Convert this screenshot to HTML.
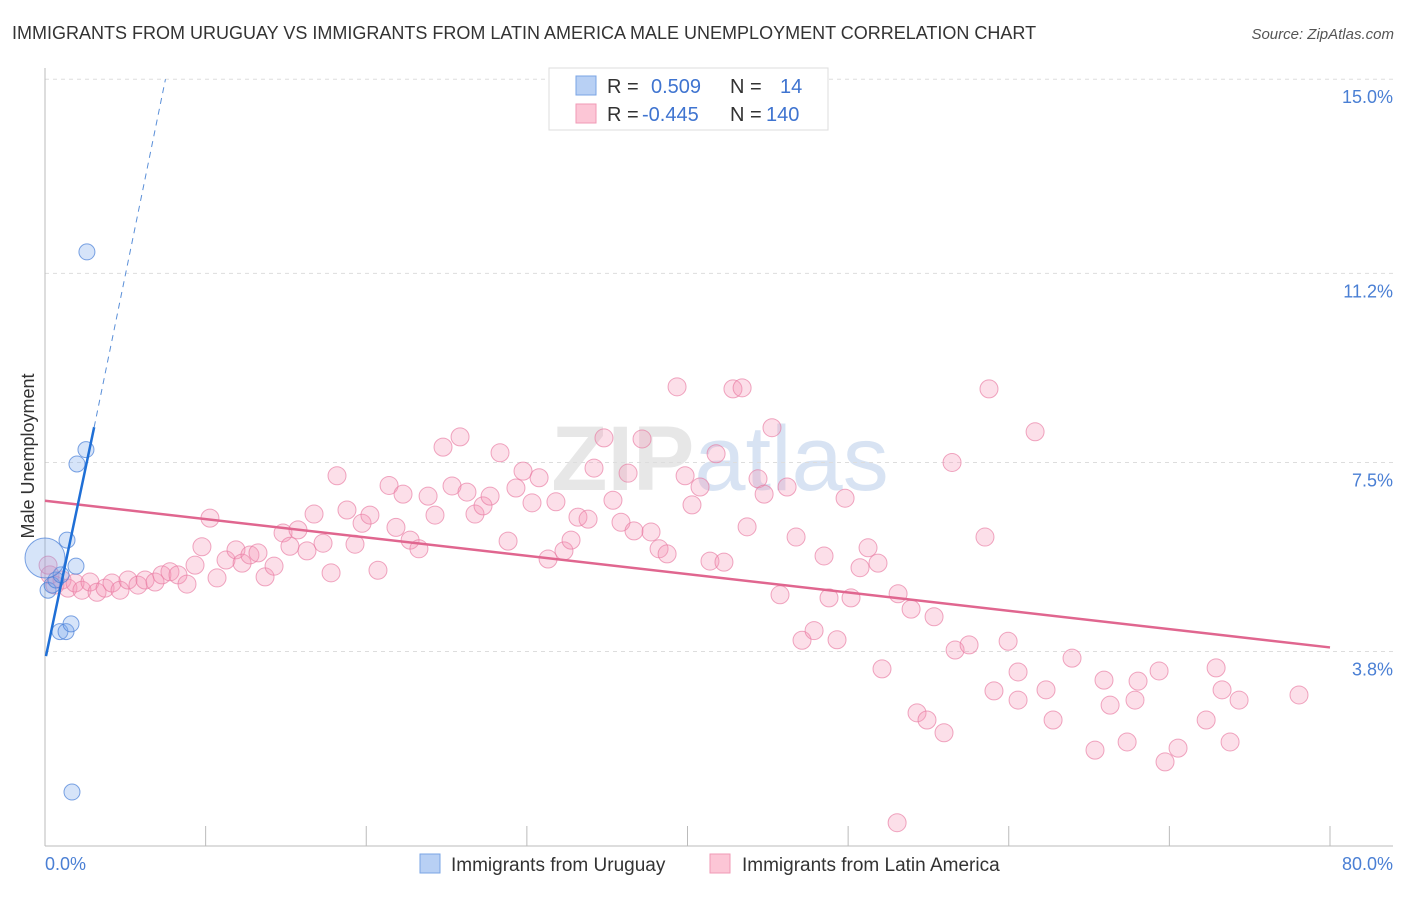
<!DOCTYPE html>
<html><head><meta charset="utf-8"><style>
body{margin:0;background:#fff;font-family:"Liberation Sans",sans-serif}
svg text{font-family:"Liberation Sans",sans-serif}
</style></head><body>
<svg id="chart" width="1406" height="892" xmlns="http://www.w3.org/2000/svg">
<text x="12" y="39" font-size="18" fill="#333">IMMIGRANTS FROM URUGUAY VS IMMIGRANTS FROM LATIN AMERICA MALE UNEMPLOYMENT CORRELATION CHART</text>
<text x="1394" y="39" font-size="15" fill="#555" text-anchor="end" font-style="italic">Source: ZipAtlas.com</text>
<text x="720" y="490" font-size="92" fill="#ddd" text-anchor="middle" font-weight="bold" opacity="0.7">ZIP<tspan fill="#c8d8ee" font-weight="normal">atlas</tspan></text>
<g id="grid"></g><g id="axes"></g><g id="pts"></g><g id="trends"></g>
<text transform="translate(34,456) rotate(-90)" font-size="18" fill="#333" text-anchor="middle">Male Unemployment</text>
<text x="45" y="870" font-size="18" fill="#4a7fd4">0.0%</text>
<text x="1393" y="870" font-size="18" fill="#4a7fd4" text-anchor="end">80.0%</text>
<g>
<rect x="549" y="68" width="279" height="62" fill="#fff" stroke="#ddd"/>
<rect x="576" y="76" width="20" height="19" fill="#b8d0f4" stroke="#7aa4e4"/>
<rect x="576" y="104" width="20" height="19" fill="#fcc6d6" stroke="#f09ab6"/>
<text x="607" y="93" font-size="20" fill="#333">R = <tspan x="651" fill="#3f74d0">0.509</tspan><tspan x="730" fill="#333">N =</tspan><tspan x="780" fill="#3f74d0">14</tspan></text>
<text x="607" y="121" font-size="20" fill="#333">R = <tspan x="642" fill="#3f74d0">-0.445</tspan><tspan x="730" fill="#333">N =</tspan><tspan x="766" fill="#3f74d0">140</tspan></text>
</g>
<g>
<rect x="420" y="854" width="20" height="19" fill="#b8d0f4" stroke="#7aa4e4"/>
<text x="451" y="871" font-size="19" fill="#333">Immigrants from Uruguay</text>
<rect x="710" y="854" width="20" height="19" fill="#fcc6d6" stroke="#f09ab6"/>
<text x="742" y="871" font-size="19" fill="#333">Immigrants from Latin America</text>
</g>
</svg>
<script>
const yTicks=[15.0,11.2,7.5,3.8];
const yTickLabels=["15.0%","11.2%","7.5%","3.8%"];
const xTicks=[0,10,20,30,40,50,60,70,80];
const blueX=[0.19,0.44,0.68,1.00,0.93,1.31,1.62,1.37,1.93,1.99,2.55,2.61,1.68,0];
const blueY=[5.00,5.10,5.20,5.30,4.19,4.19,4.34,5.98,5.47,7.47,7.75,11.62,1.05,5.63];
const blueR=[8,8,8,8,8,8,8,8,8,8,8,8,8,20];
const pinkX=[0.31,0.62,1.06,1.43,1.87,2.30,2.80,3.24,3.74,4.17,4.67,5.17,5.79,6.23,6.85,7.28,7.78,8.28,8.84,9.34,9.77,10.27,10.71,11.27,11.89,12.27,12.76,13.26,13.70,14.26,14.82,15.25,15.75,16.31,16.75,17.31,17.81,18.18,18.80,19.30,19.74,20.23,20.73,21.42,21.85,22.29,22.73,23.28,23.85,24.28,24.78,25.34,25.84,26.27,26.77,27.27,27.71,28.33,28.83,29.32,29.76,30.32,30.76,31.32,31.81,32.31,32.75,33.18,33.81,34.18,34.80,35.36,35.86,36.30,36.67,37.17,37.73,38.23,38.73,39.35,39.85,40.28,40.78,41.40,41.78,42.27,42.83,43.40,43.71,44.39,44.77,45.26,45.76,46.20,46.76,47.13,47.88,48.50,48.81,49.31,49.81,50.18,50.74,51.24,51.86,52.11,53.11,53.05,53.92,54.29,54.91,55.35,55.97,56.47,56.66,57.53,58.52,59.08,59.96,60.58,60.58,58.77,61.64,62.32,62.76,63.94,65.37,65.93,66.31,67.37,68.05,67.86,69.36,69.73,70.54,72.29,72.91,73.28,73.78,74.34,78.07,0.19];
const pinkY=[5.30,5.10,5.20,5.04,5.14,5.00,5.16,4.96,5.04,5.14,5.00,5.20,5.10,5.20,5.16,5.30,5.36,5.30,5.12,5.49,5.85,6.41,5.24,5.59,5.79,5.53,5.69,5.73,5.26,5.47,6.12,5.86,6.18,5.77,6.49,5.92,5.34,7.24,6.57,5.90,6.31,6.47,5.39,7.05,6.23,6.88,5.98,5.81,6.84,6.47,7.80,7.04,8.00,6.92,6.49,6.65,6.84,7.69,5.96,7.00,7.33,6.71,7.20,5.61,6.73,5.77,5.98,6.43,6.39,7.39,7.98,6.76,6.33,7.29,6.16,7.96,6.14,5.81,5.71,8.98,7.24,6.67,7.02,5.57,7.67,5.55,8.94,8.96,6.24,7.18,6.88,8.18,4.91,7.02,6.04,4.02,4.21,5.67,4.85,4.03,6.80,4.85,5.44,5.83,5.53,3.46,4.93,0.45,4.63,2.60,2.46,4.48,2.21,7.50,3.83,3.93,6.04,3.03,4.00,3.40,2.85,8.94,8.10,3.05,2.46,3.67,1.87,3.24,2.75,2.03,3.22,2.85,3.42,1.64,1.91,2.46,3.48,3.05,2.03,2.85,2.95,5.49];
const blueTrend=[[0.06,3.71],[3.06,8.19]];
const blueTrendExt=[[3.06,8.19],[7.5,15.0]];
const pinkTrend=[[0,6.75],[80,3.88]];
const NS="http://www.w3.org/2000/svg";
const sx=v=>45+v/80*1285, sy=v=>845.7-v*51.1;
function mk(tag,attrs,parent){const e=document.createElementNS(NS,tag);for(const k in attrs)e.setAttribute(k,attrs[k]);parent.appendChild(e);return e;}
const grid=document.getElementById('grid'),axes=document.getElementById('axes'),pts=document.getElementById('pts'),tr=document.getElementById('trends');
yTicks.forEach((t,i)=>{
 const l=mk('line',{x1:45,x2:1393,y1:sy(t),y2:sy(t),stroke:'#ddd','stroke-dasharray':'4,4'},grid);
 
 
 const tx=mk('text',{x:1393,y:sy(t)+24,'font-size':18,fill:'#4a7fd4','text-anchor':'end'},grid);
 tx.textContent=yTickLabels[i];
 
 
});
const ya=mk('line',{x1:45,x2:45,y1:68,y2:846,stroke:'#bbb'},axes);


const xa=mk('line',{x1:45,x2:1393,y1:846,y2:846,stroke:'#bbb'},axes);


xTicks.forEach(t=>{
 const l=mk('line',{x1:sx(t),x2:sx(t),y1:826,y2:846,stroke:'#bbb'},axes);
 
 
});
pinkX.forEach((x,i)=>{
 const c=mk('circle',{cx:sx(x),cy:sy(pinkY[i]),r:9,fill:'rgba(246,150,182,0.3)',stroke:'rgba(232,120,160,0.65)','stroke-width':1},pts);
 
 
});
blueX.forEach((x,i)=>{
 const c=mk('circle',{cx:sx(x),cy:sy(blueY[i]),r:blueR[i],fill:'rgba(120,165,235,0.3)',stroke:'rgba(70,125,215,0.7)','stroke-width':1},pts);
 
 
});
const pl=mk('line',{x1:sx(pinkTrend[0][0]),y1:sy(pinkTrend[0][1]),x2:sx(pinkTrend[1][0]),y2:sy(pinkTrend[1][1]),stroke:'#e0668f','stroke-width':2.5},tr);


const bl=mk('line',{x1:sx(blueTrend[0][0]),y1:sy(blueTrend[0][1]),x2:sx(blueTrend[1][0]),y2:sy(blueTrend[1][1]),stroke:'#1f6fd6','stroke-width':2.5},tr);


const be=mk('line',{x1:sx(blueTrendExt[0][0]),y1:sy(blueTrendExt[0][1]),x2:sx(blueTrendExt[1][0]),y2:sy(blueTrendExt[1][1]),stroke:'#5a8fd8','stroke-width':1,'stroke-dasharray':'6,5'},tr);


</script>
</body></html>
